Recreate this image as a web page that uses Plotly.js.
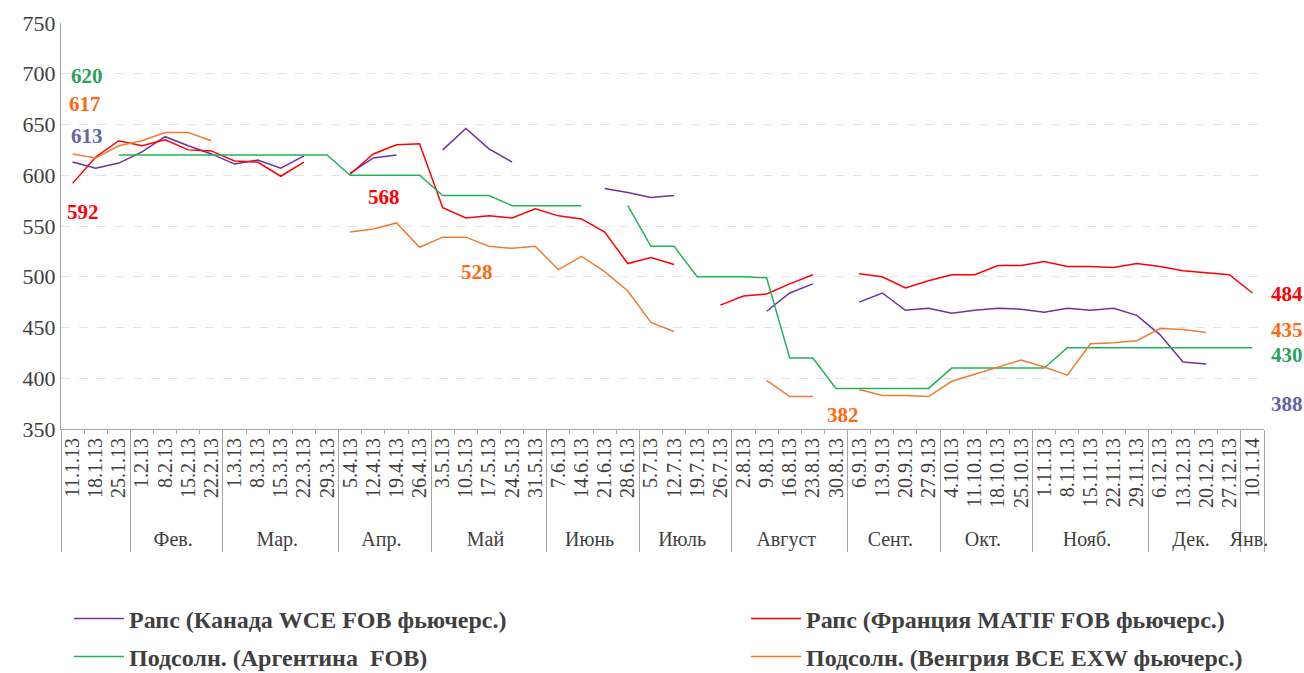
<!DOCTYPE html>
<html>
<head>
<meta charset="utf-8">
<script src="https://cdn.plot.ly/plotly-3.0.1.min.js"></script>
<style>html,body{margin:0;padding:0;background:#fff;}#chart{width:1304px;height:673px;}</style>
</head>
<body>
<div id="chart"></div>
<script>
var dates = ["11.1.13","18.1.13","25.1.13","1.2.13","8.2.13","15.2.13","22.2.13","1.3.13","8.3.13","15.3.13","22.3.13","29.3.13","5.4.13","12.4.13","19.4.13","26.4.13","3.5.13","10.5.13","17.5.13","24.5.13","31.5.13","7.6.13","14.6.13","21.6.13","28.6.13","5.7.13","12.7.13","19.7.13","26.7.13","2.8.13","9.8.13","16.8.13","23.8.13","30.8.13","6.9.13","13.9.13","20.9.13","27.9.13","4.10.13","11.10.13","18.10.13","25.10.13","1.11.13","8.11.13","15.11.13","22.11.13","29.11.13","6.12.13","13.12.13","20.12.13","27.12.13","10.1.14"];
var monthNames = [" ","Фев.","Мар.","Апр.","Май","Июнь","Июль","Август","Сент.","Окт.","Нояб.","Дек.","Янв."];
var monthCounts = [3,4,5,4,5,4,4,5,4,4,5,4,1];

var canadaWCE = [613,607,612,623,638,629,621,611,615,607,619,null,602,617,620,null,625,646,626,613,null,null,null,587,583,578,580,null,null,null,466,484,493,null,475,484,467,469,464,467,469,468,465,469,467,469,462,443,416,414,null,null];
var franceMATIF = [592,618,634,629,635,625,624,614,613,599,613,null,601,621,630,631,568,558,560,558,567,560,557,544,513,519,512,null,472,481,483,493,502,null,503,500,489,496,502,502,511,511,515,510,510,509,513,510,506,504,502,484];
var argentinaFOB = [null,null,620,620,620,620,620,620,620,620,620,620,600,600,600,600,580,580,580,570,570,570,570,null,570,530,530,500,500,500,499,420,420,390,390,390,390,390,410,410,410,410,410,430,430,430,430,430,430,430,430,430];
var hungaryBCE = [621,617,629,634,642,642,634,null,null,null,null,null,544,547,553,529,539,539,530,528,530,507,520,505,486,455,446,null,null,null,398,382,382,null,389,383,383,382,397,404,411,418,411,403,434,435,437,449,448,445,null,null];

var seriesNames = ["Рапс (Канада WCE FOB фьючерс.)","Рапс (Франция MATIF FOB фьючерс.)","Подсолн. (Аргентина  FOB)","Подсолн. (Венгрия BCE EXW фьючерс.)"];
var labelTexts = ["620","617","613","592","568","528","382","484","435","430","388"];

var months = [];
monthNames.forEach(function(m, k){ for (var j = 0; j < monthCounts[k]; j++) months.push(m); });
var xcat = [months, dates];

var W = 1304, H = 673;
var L = 61, R = 1264, T = 23, B = 429;
function px(x){ return (x - L) / (R - L); }
function py(y){ return (B - y) / (B - T); }

var F = "Liberation Serif, Times New Roman, serif";
function tr(y, name, color, leg){
  return {x: xcat, y: y, name: name, type: 'scatter', mode: 'lines', connectgaps: false,
    line: {color: color, width: 1.5}, legend: leg, hoverinfo: 'y'};
}
var data = [
  tr(canadaWCE, seriesNames[0], '#7030a0', 'legend'),
  tr(franceMATIF, seriesNames[1], '#ff0000', 'legend2'),
  tr(argentinaFOB, seriesNames[2], '#22b35a', 'legend3'),
  tr(hungaryBCE, seriesNames[3], '#ed7d31', 'legend4')
];

var labelPos = [[87,75.5,'#2f9e5f'],[85,104,'#ff6a10'],[87,136,'#6464a8'],[83,212,'#ff0000'],
  [384,197.5,'#ff0000'],[477,271.5,'#ff6a10'],[843,415,'#ff6a10'],
  [1287,293.5,'#ff0000'],[1287,330,'#ff6a10'],[1287,354.5,'#2f9e5f'],[1287,403.5,'#6464a8']];
var annotations = labelTexts.map(function(t, i){
  var p = labelPos[i];
  return {xref:'paper', yref:'paper', x: px(p[0]), y: py(p[1]), xanchor:'center', yanchor:'middle',
    text: t, showarrow: false, font: {family: F, size: 21, color: p[2], weight: 700}};
});

var legFont = {family: F, size: 24, color: '#404040', weight: 700};
function leg(xp, yp){
  return {orientation: 'h', xref: 'container', yref: 'container', x: xp / W, y: 1 - yp / H,
    xanchor: 'left', yanchor: 'middle', itemwidth: 50, font: legFont, bgcolor: 'rgba(0,0,0,0)'};
}
var layout = {
  width: W, height: H,
  margin: {l: L, r: W - R, t: T, b: H - B},
  paper_bgcolor: '#fff', plot_bgcolor: '#fff',
  showlegend: true,
  xaxis: {
    type: 'multicategory', range: [-0.5, 51.5], dtick: 1, nticks: 100, automargin: false,
    showline: true, linecolor: '#a6a6a6', linewidth: 1,
    tickangle: -90, tickfont: {family: F, size: 20, color: '#404040'},
    showdividers: true, dividercolor: '#a6a6a6', dividerwidth: 1,
    ticks: 'outside', ticklen: 4, tickcolor: '#a6a6a6', showgrid: false, zeroline: false
  },
  yaxis: {
    range: [350, 750], dtick: 50, tick0: 350, automargin: false,
    showline: true, linecolor: '#a6a6a6', linewidth: 1,
    showgrid: true, gridcolor: '#e3e3e3', griddash: 'dash', zeroline: false, ticks: '',
    tickfont: {family: F, size: 22, color: '#404040'}
  },
  legend: leg(69, 619),
  legend2: leg(746, 619),
  legend3: leg(69, 657),
  legend4: leg(746, 657),
  annotations: annotations
};
Plotly.newPlot('chart', data, layout, {displayModeBar: false, staticPlot: true});
</script>
</body>
</html>
